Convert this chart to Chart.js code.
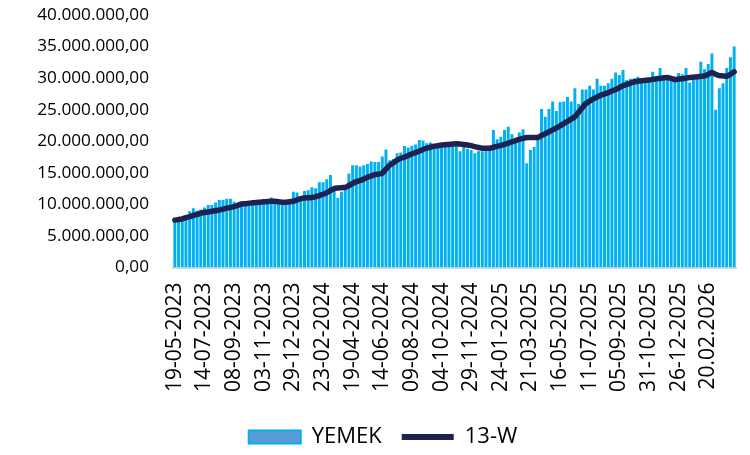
<!DOCTYPE html>
<html>
<head>
<meta charset="utf-8">
<script src="https://cdn.jsdelivr.net/npm/chart.js@4.4.1/dist/chart.umd.min.js"></script>
<style>
  html, body { margin: 0; padding: 0; background: #fff; }
</style>
</head>
<body>
<canvas id="chart" width="750" height="455"></canvas>
<script>
// weekly values, in millions
const yemek = [
  7.3, 7.3, 7.4, 8.2, 8.9, 9.4, 9.0, 9.2, 9.5, 9.9,
  9.9, 10.3, 10.7, 10.7, 10.9, 10.9, 10.4, 10.2, 10.3, 10.4,
  10.4, 10.5, 10.5, 10.6, 10.6, 10.7, 11.1, 10.8, 10.4, 10.3,
  10.4, 10.5, 12.0, 11.9, 11.2, 12.1, 12.25, 12.7, 12.55, 13.5,
  13.5, 14.0, 14.65, 12.3, 11.0, 12.0, 12.3, 14.9, 16.2, 16.2,
  16.0, 16.2, 16.4, 16.8, 16.7, 16.7, 17.6, 18.7, 17.0, 17.2,
  18.1, 18.2, 19.25, 19.0, 19.3, 19.5, 20.2, 20.1, 19.7, 19.8,
  19.3, 19.5, 19.5, 19.6, 19.6, 19.7, 19.8, 18.4, 19.2, 18.8,
  18.6, 18.1, 18.4, 18.4, 18.5, 18.9, 21.8, 20.3, 20.7, 21.8,
  22.3, 21.1, 20.3, 21.4, 21.9, 16.5, 18.6, 19.1, 20.4, 25.1,
  23.9, 25.1, 26.3, 24.8, 26.2, 26.3, 27.0, 26.3, 28.4, 25.9,
  28.2, 28.2, 28.8, 28.2, 29.9, 28.8, 28.8, 29.2, 29.9, 30.9,
  30.5, 31.3, 29.7, 29.9, 30.0, 30.2, 29.9, 30.0, 29.5, 31.0,
  29.9, 31.6, 30.0, 29.7, 29.8, 29.7, 30.8, 30.6, 31.6, 29.3,
  29.8, 29.9, 32.6, 31.4, 32.25, 33.9, 25.0, 28.4, 29.2, 31.6,
  33.3, 35.0
];

const w13 = [
  7.5, 7.6, 7.7, 7.9, 8.05, 8.25, 8.4, 8.6, 8.7, 8.8,
  8.9, 9.0, 9.1, 9.25, 9.4, 9.5, 9.65, 9.85, 10.05, 10.1,
  10.2, 10.25, 10.3, 10.35, 10.4, 10.45, 10.5, 10.5, 10.4, 10.35,
  10.35, 10.4, 10.5, 10.7, 10.9, 11.0, 11.05, 11.1, 11.2, 11.4,
  11.6, 11.85, 12.2, 12.5, 12.6, 12.65, 12.7, 13.0, 13.3, 13.6,
  13.8, 14.0, 14.3, 14.5, 14.7, 14.8, 14.95, 15.6, 16.2, 16.6,
  17.0, 17.3, 17.5, 17.75, 18.0, 18.2, 18.45, 18.7, 18.9, 19.05,
  19.2, 19.3, 19.4, 19.45, 19.5, 19.55, 19.6, 19.55, 19.5, 19.4,
  19.3, 19.15, 19.0, 18.9, 18.9, 18.9, 19.05, 19.2, 19.35, 19.5,
  19.7, 19.9, 20.1, 20.3, 20.45, 20.6, 20.6, 20.6, 20.6, 20.9,
  21.2, 21.5, 21.8, 22.1, 22.45, 22.8, 23.15, 23.5, 23.9, 24.6,
  25.3, 26.0, 26.35, 26.7, 27.0, 27.3, 27.5, 27.7, 27.95, 28.2,
  28.5, 28.8, 29.0, 29.2, 29.4, 29.5, 29.6, 29.65, 29.7, 29.8,
  29.9, 29.95, 30.05, 30.1, 29.95, 29.8, 29.85, 29.9, 30.0, 30.1,
  30.15, 30.2, 30.3, 30.35, 30.6, 30.9, 30.6, 30.4, 30.35, 30.3,
  30.6, 31.0
];

// every 8th week gets a label
const tickLabels = [
  '19-05-2023', '14-07-2023', '08-09-2023', '03-11-2023', '29-12-2023',
  '23-02-2024', '19-04-2024', '14-06-2024', '09-08-2024', '04-10-2024',
  '29-11-2024', '24-01-2025', '21-03-2025', '16-05-2025', '11-07-2025',
  '05-09-2025', '31-10-2025', '26-12-2025', '20.02.2026'
];

// weekly categories from 19-05-2023
const weeks = [];
for (let i = 0; i < yemek.length; i++) {
  const d = new Date(Date.UTC(2023, 4, 19 + 7 * i));
  weeks.push(d.toISOString().slice(0, 10));
}

function trNum(v){
  const s = Math.round(v).toString().replace(/\B(?=(\d{3})+(?!\d))/g, '.');
  return s + ',00';
}

const NAVY = '#1e2250';
const CYAN = '#00b0f0';

Chart.defaults.font.family = '"Open Sans", sans-serif';
Chart.defaults.color = '#000';

const ctx = document.getElementById('chart').getContext('2d');
new Chart(ctx, {
  type: 'bar',
  data: {
    labels: weeks,
    datasets: [
      {
        label: 'YEMEK',
        data: yemek.map(v => v * 1e6),
        backgroundColor: CYAN,
        borderWidth: 0,
        categoryPercentage: 0.8,
        barPercentage: 1,
        order: 1
      },
      {
        type: 'line',
        label: '13-W',
        data: w13.map(v => v * 1e6),
        borderColor: NAVY,
        backgroundColor: NAVY,
        borderWidth: 5.5,
        pointRadius: 0,
        tension: 0.3,
        borderCapStyle: 'round',
        borderJoinStyle: 'round',
        order: 0
      }
    ]
  },
  options: {
    responsive: false,
    animation: false,
    layout: { padding: { top: 15, right: 14, left: 30, bottom: -3 } },
    plugins: {
      tooltip: { enabled: false },
      legend: {
        position: 'bottom',
        labels: {
          usePointStyle: true,
          pointStyleWidth: 52,
          boxHeight: 13,
          padding: 20,
          font: { size: 22 },
          color: '#000',
          generateLabels: (chart) => {
            const items = Chart.defaults.plugins.legend.labels.generateLabels(chart);
            items.sort((a, b) => a.datasetIndex - b.datasetIndex);
            items[0].pointStyle = 'rect';
            items[0].fillStyle = '#5b9bd5';
            items[0].strokeStyle = CYAN;
            items[0].lineWidth = 2;
            items[1].pointStyle = 'line';
            items[1].strokeStyle = NAVY;
            items[1].lineWidth = 6;
            return items;
          }
        }
      }
    },
    scales: {
      x: {
        grid: { display: false, drawTicks: false },
        border: { display: true, color: '#d9d9d9', width: 2 },
        ticks: {
          autoSkip: false,
          minRotation: 90,
          maxRotation: 90,
          padding: 15,
          font: { size: 21 },
          color: '#000',
          callback: (v, i) => (i % 8 === 0 ? tickLabels[i / 8] : '')
        },
        afterFit: s => { s.height = 138.5; s.paddingLeft = 0; s.paddingRight = 0; }
      },
      y: {
        min: 0,
        max: 40e6,
        grid: { display: false, drawTicks: false },
        border: { display: false },
        ticks: {
          stepSize: 5e6,
          padding: 24,
          font: { size: 17.2 },
          color: '#000',
          callback: v => trNum(v)
        },
        afterFit: s => { s.width = 143; s.paddingTop = 0; s.paddingBottom = 0; }
      }
    }
  }
});
</script>
</body>
</html>
